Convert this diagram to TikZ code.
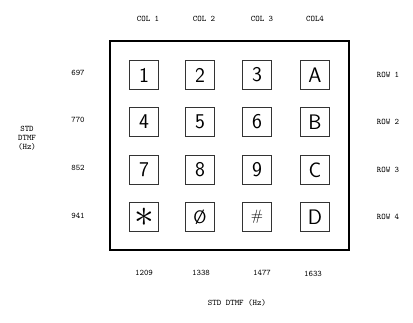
\documentclass[tikz,border=0pt]{standalone}
\usepackage{tikz}
\usetikzlibrary{positioning}
\tikzset{
    key/.style={draw=black!80, line width=0.7pt, minimum width=29pt,
                minimum height=29pt, inner sep=0pt,
                font=\sffamily\fontsize{21}{21}\selectfont},
    lbl/.style={font=\ttfamily\fontsize{8.5}{9}\selectfont, align=center,
                inner sep=0pt},
    pad/.style={draw, line width=1.8pt, minimum width=239pt,
                minimum height=209pt, inner sep=0pt},
}
\begin{document}
\begin{tikzpicture}[x=1pt, y=-1pt]
    \useasboundingbox (0,0) rectangle (413,322);
    \node[pad] (pad) at (229.5,145.5) {};
    % keys
    \node[key] (k1) at (144,75) {1};
    \node[key] (k2) at (200,75) {2};
    \node[key] (k3) at (257,75) {3};
    \node[key] (kA) at (315,75) {A};
    \node[key] (k4) at (144,122) {4};
    \node[key] (k5) at (200,122) {5};
    \node[key] (k6) at (257,122) {6};
    \node[key] (kB) at (315,122) {B};
    \node[key] (k7) at (144,170) {7};
    \node[key] (k8) at (200,170) {8};
    \node[key] (k9) at (257,170) {9};
    \node[key] (kC) at (315,170) {C};
    \node[key] (kstar) at (144,217) {\raisebox{-0.35em}{\scalebox{1.9}{$\ast$}}};
    \node[key] (kzero) at (200,217) {\fontsize{18}{18}\selectfont\O};
    \node[key] (khash) at (257,217) {\fontsize{15}{15}\selectfont\#};
    \node[key] (kD) at (315,217) {D};
    % column labels
    \node[lbl] (c1) at (148,19) {COL 1};
    \node[lbl] (c2) at (204,19) {COL 2};
    \node[lbl] (c3) at (262,19) {COL 3};
    \node[lbl] (c4) at (315,19) {COL4};
    % row labels
    \node[lbl] (r1) at (388,75) {ROW 1};
    \node[lbl] (r2) at (388,122) {ROW 2};
    \node[lbl] (r3) at (388,170) {ROW 3};
    \node[lbl] (r4) at (388,217) {ROW 4};
    % row frequencies
    \node[lbl] (f697) at (78,73) {697};
    \node[lbl] (f770) at (78,120) {770};
    \node[lbl] (f852) at (78,168) {852};
    \node[lbl] (f941) at (78,216) {941};
    \node[lbl] (rowunit) at (27,138) {STD\\DTMF\\(Hz)};
    % column frequencies
    \node[lbl] (f1209) at (144,273) {1209};
    \node[lbl] (f1336) at (201,273) {1338};
    \node[lbl] (f1477) at (262,273) {1477};
    \node[lbl] (f1633) at (313,274) {1633};
    \node[lbl] (colunit) at (237,303) {STD DTMF (Hz)};
\end{tikzpicture}
\end{document}
